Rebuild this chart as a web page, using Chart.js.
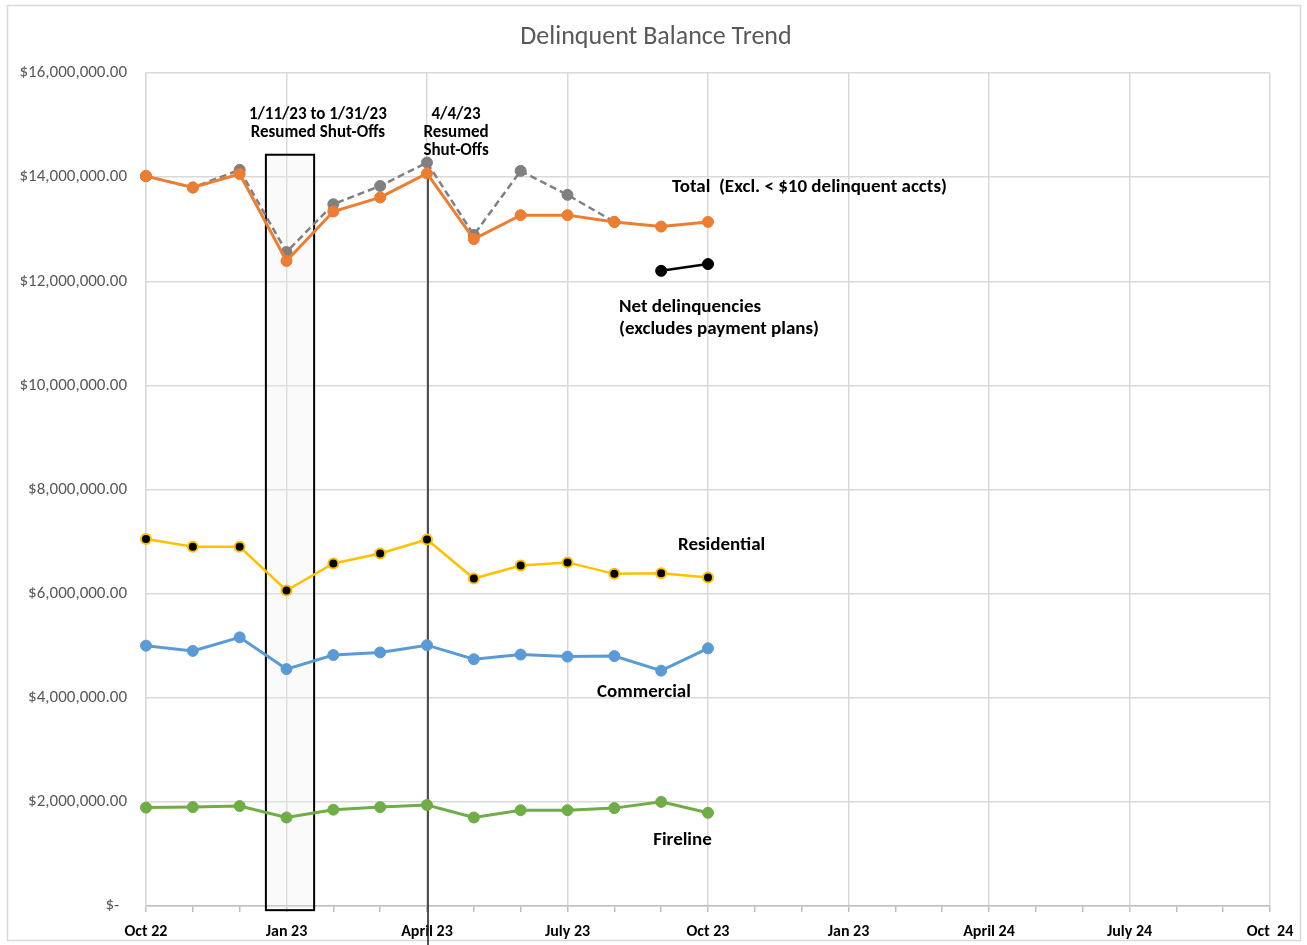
<!DOCTYPE html>
<html>
<head>
<meta charset="utf-8">
<script src="https://cdn.jsdelivr.net/npm/chart.js@4.4.1/dist/chart.umd.min.js"></script>
<style>
  html, body { margin: 0; padding: 0; background: #ffffff; }
  #wrap { width: 1307px; height: 945px; }
</style>
</head>
<body>
<div id="wrap"><canvas id="c" width="1307" height="945"></canvas></div>
<script>
// ---------- DATA ----------
const categories = ['Oct 22','Nov 22','Dec 22','Jan 23','Feb 23','Mar 23','Apr 23','May 23','Jun 23','Jul 23','Aug 23','Sep 23','Oct 23',
                    'Nov 23','Dec 23','Jan 24','Feb 24','Mar 24','Apr 24','May 24','Jun 24','Jul 24','Aug 24','Sep 24','Oct 24'];
const tickLabels = ['Oct 22','','','Jan 23','','','April 23','','','July 23','','','Oct 23',
                    '','','Jan 23','','','April 24','','','July 24','','','Oct  24'];
const yTicks = [0, 2000000, 4000000, 6000000, 8000000, 10000000, 12000000, 14000000, 16000000];

const totalExcl   = [14020000, 13800000, 14060000, 12390000, 13340000, 13610000, 14070000, 12810000, 13270000, 13270000, 13140000, 13050000, 13140000];
const totalAll    = [14020000, 13800000, 14140000, 12560000, 13480000, 13830000, 14280000, 12890000, 14120000, 13660000, 13140000];
const netDelinq   = [null, null, null, null, null, null, null, null, null, null, null, 12200000, 12330000];
const residential = [7050000, 6900000, 6900000, 6060000, 6580000, 6770000, 7040000, 6290000, 6540000, 6600000, 6380000, 6390000, 6310000];
const commercial  = [5000000, 4900000, 5160000, 4550000, 4820000, 4870000, 5010000, 4740000, 4830000, 4790000, 4800000, 4520000, 4950000];
const fireline    = [1890000, 1900000, 1920000, 1700000, 1850000, 1900000, 1940000, 1700000, 1840000, 1840000, 1880000, 2000000, 1790000];

// ---------- STYLE ----------
const FONT = 'Carlito, Lato, "Open Sans", sans-serif';

const annotationPlugin = {
  id: 'annot',
  beforeDraw(chart) {
    const ctx = chart.ctx;
    ctx.save();
    ctx.fillStyle = '#ffffff';
    ctx.fillRect(0, 0, chart.width, chart.height);
    ctx.strokeStyle = '#d9d9d9';
    ctx.lineWidth = 1.5;
    ctx.strokeRect(7.5, 5.5, 1293, 935);
    // title
    ctx.fillStyle = '#595959';
    ctx.font = '26px ' + FONT;
    ctx.textAlign = 'center';
    ctx.textBaseline = 'middle';
    ctx.fillText('Delinquent Balance Trend', 656, 37);
    ctx.restore();
  },
  beforeDatasetsDraw(chart) {
    const ctx = chart.ctx, xs = chart.scales.x, ys = chart.scales.y;
    ctx.save();
    // shut-off period box (Jan 23)
    const x1 = xs.getPixelForValue(2.56), x2 = xs.getPixelForValue(3.59);
    const y1 = ys.getPixelForValue(14430000), y2 = ys.getPixelForValue(-80000);
    ctx.fillStyle = 'rgba(240,240,240,0.3)';
    ctx.fillRect(x1, y1, x2 - x1, y2 - y1);
    ctx.strokeStyle = '#000000';
    ctx.lineWidth = 2;
    ctx.strokeRect(x1, y1, x2 - x1, y2 - y1);
    // April 4 marker line
    const xl = Math.round(xs.getPixelForValue(6)) + 1;
    ctx.lineWidth = 1.5;
    ctx.strokeStyle = '#1a1a1a';
    ctx.beginPath();
    ctx.moveTo(xl, ys.getPixelForValue(totalExcl[6]));
    ctx.lineTo(xl, chart.height);
    ctx.stroke();
    ctx.restore();
  },
  afterDraw(chart) {
    const ctx = chart.ctx, xs = chart.scales.x, ys = chart.scales.y;
    const P = (i, v) => [xs.getPixelForValue(i), ys.getPixelForValue(v)];
    ctx.save();
    ctx.fillStyle = '#000000';
    ctx.textBaseline = 'middle';
    // shut-off notes
    ctx.font = 'bold 17px ' + FONT;
    ctx.textAlign = 'center';
    let p = P(3.67, 15190000); ctx.fillText('1/11/23 to 1/31/23', p[0], p[1]);
    p = P(3.67, 14850000); ctx.fillText('Resumed Shut-Offs', p[0], p[1]);
    p = P(6.62, 15190000); ctx.fillText('4/4/23', p[0], p[1]);
    p = P(6.62, 14850000); ctx.fillText('Resumed', p[0], p[1]);
    p = P(6.62, 14500000); ctx.fillText('Shut-Offs', p[0], p[1]);
    // series labels
    ctx.font = 'bold 19px ' + FONT;
    ctx.textAlign = 'left';
    p = P(11.23, 13810000); ctx.fillText('Total  (Excl. < $10 delinquent accts)', p[0], p[1]);
    p = P(10.10, 11510000); ctx.fillText('Net delinquencies', p[0], p[1]);
    p = P(10.10, 11080000); ctx.fillText('(excludes payment plans)', p[0], p[1]);
    p = P(11.36, 6930000); ctx.fillText('Residential', p[0], p[1]);
    p = P(9.63, 4110000); ctx.fillText('Commercial', p[0], p[1]);
    p = P(10.83, 1270000); ctx.fillText('Fireline', p[0], p[1]);
    ctx.restore();
  }
};

function lineDs(data, color, extra) {
  return Object.assign({
    data: data,
    borderColor: color,
    backgroundColor: color,
    pointBackgroundColor: color,
    pointBorderColor: color,
    borderWidth: 3,
    pointRadius: 5.5,
    pointBorderWidth: 1,
    tension: 0,
    spanGaps: false,
    fill: false
  }, extra || {});
}

new Chart(document.getElementById('c'), {
  type: 'line',
  data: {
    labels: categories,
    datasets: [
      lineDs(totalExcl, '#ED7D31'),
      lineDs(totalAll, '#808080', { borderDash: [7, 4], borderWidth: 2.5 }),
      lineDs(netDelinq, '#000000', { borderWidth: 2.5 }),
      lineDs(residential, '#FFC000', { pointBackgroundColor: '#000000', pointBorderColor: '#FFC000', pointBorderWidth: 2, pointRadius: 5, borderWidth: 2.5 }),
      lineDs(commercial, '#5B9BD5'),
      lineDs(fireline, '#70AD47')
    ]
  },
  options: {
    responsive: false,
    animation: false,
    events: [],
    layout: { padding: { top: 73, right: 37, bottom: 0, left: 0 } },
    plugins: { legend: { display: false }, title: { display: false }, tooltip: { enabled: false } },
    scales: {
      x: {
        type: 'category',
        offset: false,
        grid: {
          color: (c) => (c.index % 3 === 0 ? '#d9d9d9' : 'rgba(0,0,0,0)'),
          tickColor: '#bfbfbf',
          tickLength: 6,
          lineWidth: 1.5,
          drawTicks: true
        },
        border: { color: '#bfbfbf', width: 1.5 },
        ticks: {
          autoSkip: false,
          maxRotation: 0,
          minRotation: 0,
          padding: 10,
          color: '#000000',
          font: { family: FONT, size: 16, weight: 'bold' },
          callback: (v, i) => tickLabels[i]
        },
        afterFit: (s) => { s.height = 39; }
      },
      y: {
        min: 0,
        max: 16000000,
        afterBuildTicks: (s) => { s.ticks = yTicks.map(v => ({ value: v })); },
        grid: { color: '#d9d9d9', lineWidth: 1.5, drawTicks: false },
        border: { color: '#d9d9d9', width: 1.5 },
        ticks: {
          padding: 19,
          color: '#595959',
          font: { family: FONT, size: 17 },
          callback: (v) => v === 0 ? '$-  ' : '$' + Number(v).toLocaleString('en-US', { minimumFractionDigits: 2, maximumFractionDigits: 2 })
        },
        afterFit: (s) => { s.width = 146; }
      }
    }
  },
  plugins: [annotationPlugin]
});
</script>
</body>
</html>
